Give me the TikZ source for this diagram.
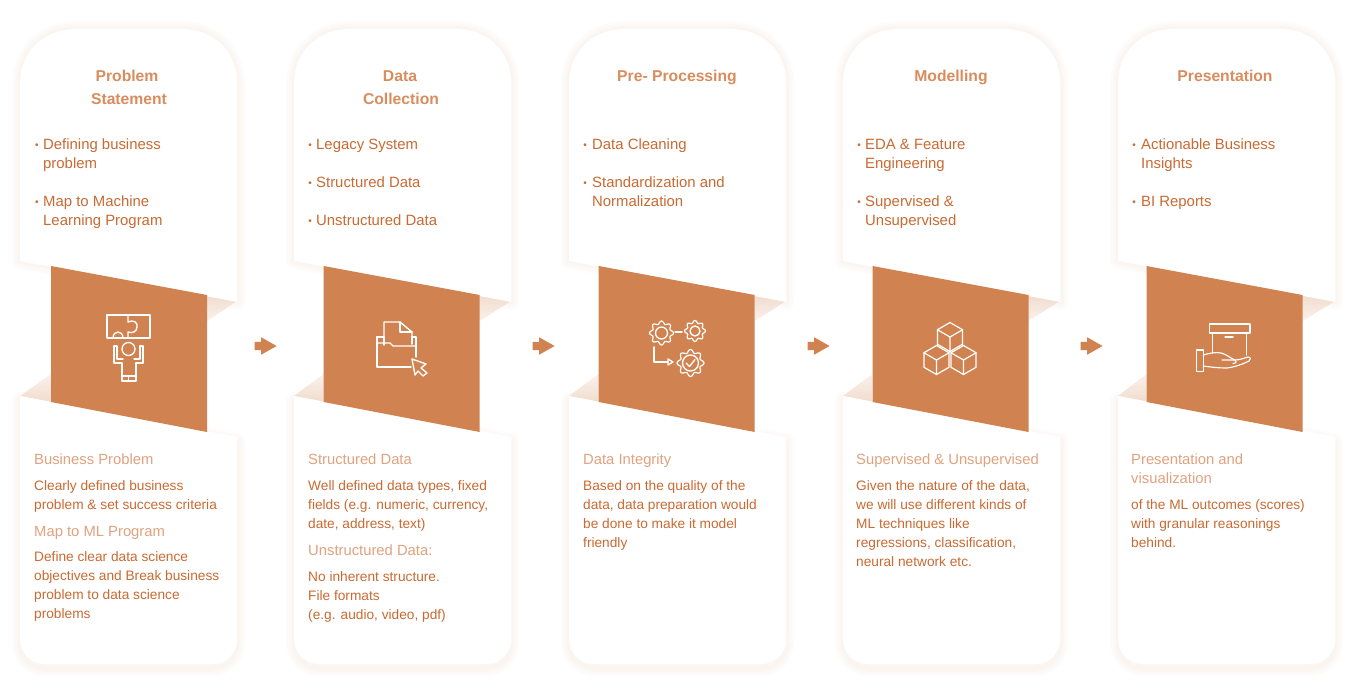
\documentclass[tikz,border=0pt]{standalone}
\usepackage{fontspec}
\setmainfont{Liberation Sans}
\usetikzlibrary{shapes.arrows}
\definecolor{brownfill}{HTML}{D08350}
\definecolor{bodytxt}{HTML}{C96A32}
\definecolor{titletxt}{HTML}{D88D5E}
\definecolor{subtxt}{HTML}{E0A27F}
\definecolor{foldd}{HTML}{F1DCCE}
\definecolor{foldl}{HTML}{FAF1EB}
\definecolor{shadowc}{HTML}{E3A77F}
\tikzset{
  panel/.style={fill=brownfill,draw=none},
  cardfill/.style={fill=white,draw=none},
  glow/.style={draw=shadowc,line join=round,opacity=0.02,fill=none},
  icon/.style={draw=white,line width=1.35pt,line join=round,line cap=round,fill=none},
  cardtitle/.style={font=\fontsize{15.7}{19}\selectfont\bfseries,text=titletxt,inner sep=0pt,anchor=base},
  topblock/.style={font=\fontsize{14.9}{19}\selectfont,text=bodytxt,anchor=north west,align=left,inner sep=0pt},
  bodyblock/.style={font=\fontsize{13.7}{19}\selectfont,text=bodytxt,anchor=north west,align=left,inner sep=0pt},
  subhead/.style={font=\fontsize{14.8}{19}\selectfont,text=subtxt,anchor=north west,align=left,inner sep=0pt},
  bulletmark/.style={font=\fontsize{10}{10}\selectfont,text=bodytxt,inner sep=0pt},
  flowarrow/.style={single arrow,fill=brownfill,draw=none,inner sep=4pt,minimum height=22pt,minimum width=17pt,single arrow head extend=4.5pt,single arrow tip angle=59,anchor=tip}
}
\newcommand{\topcardpath}{(20,261) -- (20,84) .. controls (20,50) and (45,29) .. (76,29) -- (181.5,29) .. controls (212.5,29) and (237.3,50) .. (237.3,84) -- (237.3,302) -- cycle}
\newcommand{\botcardpath}{(20,396) -- (237.3,437) -- (237.3,639) .. controls (237.3,653) and (226,664) .. (212.5,664) -- (45,664) .. controls (31,664) and (20,653) .. (20,639) -- cycle}
\newcommand{\cardbase}[1]{%
  \foreach \w in {16,13,10,7,4}{
    \draw[glow,line width=\w pt] \topcardpath;
    \draw[glow,line width=\w pt,yshift=-4pt] \botcardpath;
  }
  \shade[top color=foldd,bottom color=foldl,draw=none] (207+#1,295) -- (237,301) -- (207+#1,321) -- cycle;
  \shade[top color=foldl,bottom color=foldd,draw=none] (51+#1,374) -- (20,396) -- (51+#1,402) -- cycle;
  \fill[cardfill] \topcardpath;
  \fill[cardfill] \botcardpath;
  \fill[panel] (51+#1,266) -- (207+#1,295) -- (207+#1,432) -- (51+#1,402) -- cycle;
}
\newcommand{\gearicon}[3]{%
  \draw[icon,line width=1.2pt] plot[domain=0:360,samples=81,smooth] ({#1+(#3*(0.88+0.12*cos(8*\x)))*cos(\x)},{#2+(#3*(0.88+0.12*cos(8*\x)))*sin(\x)}) -- cycle;
}
\newcommand{\cubeicon}[3]{%
  \draw[icon,line width=1.2pt] (#1,#2-#3) -- (#1+0.866*#3,#2-0.5*#3) -- (#1+0.866*#3,#2+0.5*#3) -- (#1,#2+#3) -- (#1-0.866*#3,#2+0.5*#3) -- (#1-0.866*#3,#2-0.5*#3) -- cycle;
  \draw[icon,line width=1.2pt] (#1-0.866*#3,#2-0.5*#3) -- (#1,#2) -- (#1+0.866*#3,#2-0.5*#3) (#1,#2) -- (#1,#2+#3);
}
\begin{document}
\begin{tikzpicture}[x=1pt,y=-1pt]
\useasboundingbox (0,0) rectangle (1349,695);
\fill[white] (0,0) rectangle (1349,695);
\foreach \dx/\pd in {0/0,274/-1.3,549/-1.3,823/-1.5,1098/-2.5}{
  \begin{scope}[shift={(\dx,0)}]
    \cardbase{\pd}
  \end{scope}
}
% flow arrows
\node[flowarrow] (flowa) at (277,346) {};
\node[flowarrow] (flowb) at (555,346) {};
\node[flowarrow] (flowc) at (830,346) {};
\node[flowarrow] (flowd) at (1103,346) {};
% titles
\node[cardtitle] (ta1) at (127,82) {Problem};
\node[cardtitle] (ta2) at (129,105) {Statement};
\node[cardtitle] (tb1) at (400,82) {Data};
\node[cardtitle] (tb2) at (401,105) {Collection};
\node[cardtitle] (tc1) at (677,82) {Pre- Processing};
\node[cardtitle] (td1) at (951,82) {Modelling};
\node[cardtitle] (te1) at (1225,82) {Presentation};
% bullets
\foreach \nm/\bx/\by in {a1/37/145,a2/37/202,b1/310/145,b2/310/183,b3/310/221,c1/585/145,c2/585/183,d1/859/145,d2/859/202,e1/1134/145,e2/1134/202}{
  \node[bulletmark] (bul\nm) at (\bx,\by+0.8) {•};
}
% top texts
\node[topblock] (ua1) at (43,135.7) {\strut Defining business\\problem};
\node[topblock] (ua2) at (43,192.7) {\strut Map to Machine\\Learning Program};
\node[topblock] (ub1) at (316,135.7) {\strut Legacy System};
\node[topblock] (ub2) at (316,173.7) {\strut Structured Data};
\node[topblock] (ub3) at (316,211.7) {\strut Unstructured Data};
\node[topblock] (uc1) at (592,135.7) {\strut Data Cleaning};
\node[topblock] (uc2) at (592,173.7) {\strut Standardization and\\Normalization};
\node[topblock] (ud1) at (865,135.7) {\strut EDA \& Feature\\Engineering};
\node[topblock] (ud2) at (865,192.7) {\strut Supervised \&\\Unsupervised};
\node[topblock] (ue1) at (1141,135.7) {\strut Actionable Business\\Insights};
\node[topblock] (ue2) at (1141,192.7) {\strut BI Reports};
% bottom texts
\node[subhead] (sa1) at (34,450.7) {\strut Business Problem};
\node[bodyblock] (la1) at (34,476.7) {\strut Clearly defined business\\problem \& set success criteria};
\node[subhead] (sa2) at (34,522.7) {\strut Map to ML Program};
\node[bodyblock] (la2) at (34,547.7) {\strut Define clear data science\\objectives and Break business\\problem to data science\\problems};
\node[subhead] (sb1) at (308,450.7) {\strut Structured Data};
\node[bodyblock] (lb1) at (308,476.7) {\strut Well defined data types, fixed\\fields (e.g. numeric, currency,\\date, address, text)};
\node[subhead] (sb2) at (308,541.7) {\strut Unstructured Data:};
\node[bodyblock] (lb2) at (308,567.7) {\strut No inherent structure.\\File formats\\(e.g. audio, video, pdf)};
\node[subhead] (sc1) at (583,450.7) {\strut Data Integrity};
\node[bodyblock] (lc1) at (583,476.7) {\strut Based on the quality of the\\data, data preparation would\\be done to make it model\\friendly};
\node[subhead] (sd1) at (856,450.7) {\strut Supervised \& Unsupervised};
\node[bodyblock] (ld1) at (856,476.7) {\strut Given the nature of the data,\\we will use different kinds of\\ML techniques like\\regressions, classification,\\neural network etc.};
\node[subhead] (se1) at (1131,450.7) {\strut Presentation and\\visualization};
\node[bodyblock] (le1) at (1131,495.7) {\strut of the ML outcomes (scores)\\with granular reasonings\\behind.};
% icon 1: puzzle and person
\draw[icon] (107,315) rectangle (150,338);
\draw[icon] (128,315) -- (128,322) .. controls (134,319) and (138,323) .. (137,327) .. controls (137,331) and (133,334) .. (128,332) -- (128,338);
\draw[icon] (113,338) .. controls (113,330) and (123,330) .. (123,338);
\draw[icon] (128.5,349) circle (6.5);
\draw[icon] (114,346) -- (114,363) -- (122,363) -- (122,381) -- (136,381) -- (136,363) -- (143,363) -- (143,346) -- (140,346) -- (140,359) -- (134,359);
\draw[icon] (114,346) -- (117,346) -- (117,359) -- (123,359);
\draw[icon] (122,376) -- (136,376) (128.5,376) -- (128.5,381);
% icon 2: folder and cursor
\draw[icon] (384,337) -- (384,322) -- (400,322) -- (412,332) -- (412,337);
\draw[icon] (400,322) -- (400,332) -- (412,332);
\draw[icon] (384,345) -- (384,337) -- (377,337) -- (377,367) -- (411,367);
\draw[icon] (377,343) -- (390,343) -- (393,346) -- (416,346);
\draw[icon] (412,344) -- (412,337) -- (416,337) -- (416,357);
\draw[icon] (412,359) -- (426,364) -- (421,368) -- (427,373) -- (423,376) -- (418,371) -- (415,375) -- cycle;
% icon 3: gears
\gearicon{661.5}{333}{12}
\draw[icon] (661.5,333) circle (6);
\gearicon{695}{331}{10.5}
\draw[icon] (695,331) circle (5);
\gearicon{690.5}{363}{13.5}
\draw[icon] (690.5,363) circle (8);
\draw[icon] (675,332) -- (682,332);
\draw[icon] (654,347) -- (654,362) -- (668,362);
\draw[icon] (668,359) -- (673,362) -- (668,365) -- cycle;
\draw[icon] (686,363) -- (689.5,366.5) -- (695,359.5);
% icon 4: cubes
\cubeicon{950}{337}{14.5}
\cubeicon{936.5}{360}{14.5}
\cubeicon{963.5}{360}{14.5}
% icon 5: box on hand
\draw[icon] (1209.3,324) rectangle (1250,333);
\draw[icon] (1212.6,333) -- (1212.6,353) (1246.6,333) -- (1246.6,355);
\draw[icon] (1225,337) -- (1233,337);
\draw[icon] (1196.7,350) rectangle (1203.3,371.7);
\draw[icon,line width=1.15pt] (1203.3,355) .. controls (1210,353) and (1216,352) .. (1221,353) .. controls (1226,354) and (1230,358) .. (1235,360) .. controls (1240,360) and (1244,358) .. (1248,357) .. controls (1251,357) and (1251,360) .. (1249,361) .. controls (1243,364) and (1235,367) .. (1227,368) .. controls (1218,368) and (1210,367) .. (1203.3,366);
\draw[icon,line width=1.15pt] (1222,360) -- (1235,360) .. controls (1237,362) and (1236,363) .. (1233,363.5);
\end{tikzpicture}
\end{document}
